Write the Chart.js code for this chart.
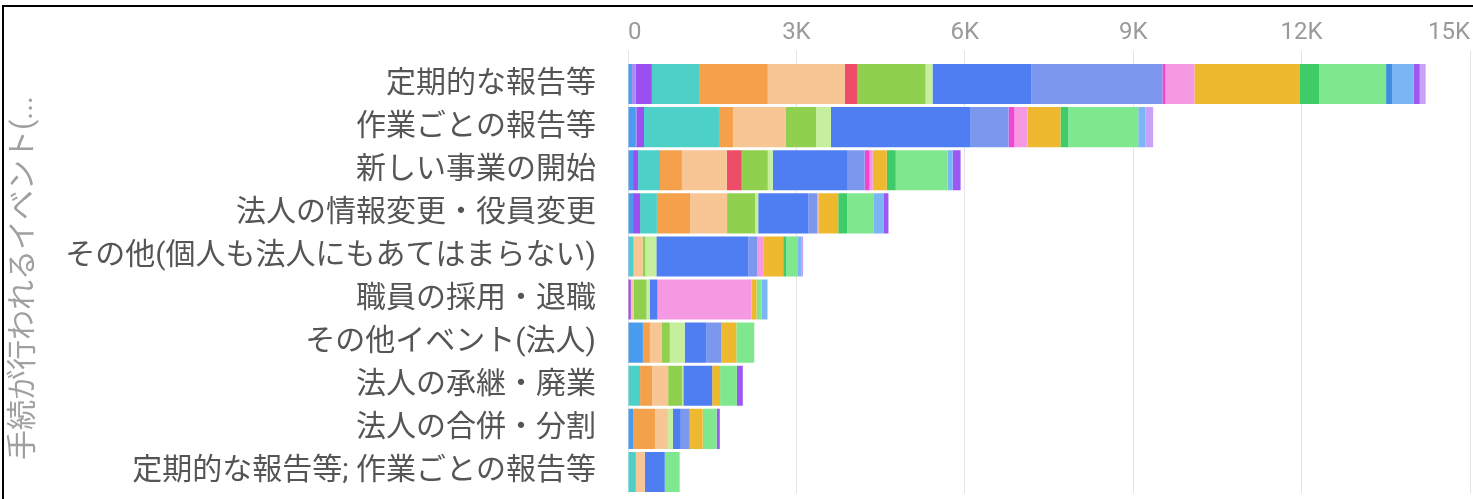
<!DOCTYPE html>
<html>
<head>
<meta charset="utf-8">
<script src="https://cdn.jsdelivr.net/npm/chart.js@4"></script>
<style>
  html, body { margin: 0; padding: 0; background: #fff; }
  #wrap { position: relative; width: 1473px; height: 499px; overflow: hidden; }
  #frame { position: absolute; left: 2px; top: 5px; width: 1480px; height: 510px;
           border-top: 2px solid #000; border-left: 2px solid #000; }
  canvas { position: absolute; left: 0; top: 0; }
</style>
</head>
<body>
<div id="wrap">
  <div id="frame"></div>
  <canvas id="chart" width="1473" height="499"></canvas>
</div>
<script>
// categories (bars, top to bottom)
const categories = [
  '定期的な報告等',
  '作業ごとの報告等',
  '新しい事業の開始',
  '法人の情報変更・役員変更',
  'その他(個人も法人にもあてはまらない)',
  '職員の採用・退職',
  'その他イベント(法人)',
  '法人の承継・廃業',
  '法人の合併・分割',
  '定期的な報告等; 作業ごとの報告等'
];
const axisTitle = '手続が行われるイベント(...';
const tickValues = [0, 3000, 6000, 9000, 12000, 15000];

// breakdown series, values read per bar
const s01 = [70, 140, 90, 90, 30, 0, 265, 0, 90, 0];
const s02 = [70, 20, 0, 0, 0, 0, 0, 0, 0, 0];
const s03 = [285, 125, 90, 125, 0, 50, 0, 0, 0, 0];
const s04 = [855, 1335, 390, 300, 70, 0, 0, 215, 0, 140];
const s05 = [1210, 250, 390, 590, 0, 0, 125, 215, 390, 0];
const s06 = [1370, 945, 800, 660, 160, 50, 215, 285, 230, 160];
const s07 = [230, 0, 265, 0, 0, 0, 0, 0, 0, 0];
const s08 = [1210, 535, 465, 500, 50, 230, 140, 250, 0, 0];
const s09 = [125, 265, 90, 55, 195, 55, 265, 20, 90, 0];
const s10 = [1765, 2490, 1335, 890, 1640, 140, 390, 515, 140, 355];
const s11 = [2330, 675, 300, 160, 160, 0, 265, 0, 160, 0];
const s12 = [55, 105, 90, 0, 0, 0, 0, 0, 0, 0];
const s13 = [515, 230, 55, 20, 105, 1675, 0, 0, 0, 0];
const s14 = [1870, 590, 250, 355, 355, 90, 265, 140, 230, 0];
const s15 = [355, 140, 160, 160, 55, 0, 0, 0, 0, 0];
const s16 = [1190, 1245, 925, 465, 195, 90, 320, 300, 250, 265];
const s17 = [105, 0, 0, 0, 0, 0, 0, 0, 0, 0];
const s18 = [390, 125, 90, 180, 70, 105, 0, 0, 0, 0];
const s19 = [105, 0, 140, 90, 0, 0, 0, 105, 55, 0];
const s20 = [105, 140, 0, 0, 35, 0, 0, 0, 0, 0];

const seriesValues = [s01, s02, s03, s04, s05, s06, s07, s08, s09, s10,
                      s11, s12, s13, s14, s15, s16, s17, s18, s19, s20];
const seriesColors = [
  '#4a9bee', '#a98cf6', '#9b4ff0', '#4dd0c8', '#f5a04a',
  '#f8c595', '#ee4d68', '#8fd14f', '#c5ef9c', '#4f7ef2',
  '#7b97ee', '#f046d0', '#f59ae2', '#efb92f', '#3fcb67',
  '#7fe88f', '#3d8ee0', '#7ab6f3', '#9d57f2', '#c9a1f8'
];

const jpFont = "Roboto, 'Noto Sans CJK JP', sans-serif";
Chart.defaults.font.family = jpFont;

const datasets = seriesValues.map((vals, i) => ({
  label: '系列' + (i + 1),
  data: vals,
  backgroundColor: seriesColors[i],
  borderWidth: 0,
  barPercentage: 0.93,
  categoryPercentage: 1
}));

const PAD_LEFT = 6, PAD_TOP = 8;
const AREA_LEFT = 628, AREA_TOP = 62.5;

new Chart(document.getElementById('chart'), {
  type: 'bar',
  data: { labels: categories, datasets: datasets },
  options: {
    indexAxis: 'y',
    animation: false,
    responsive: false,
    layout: { padding: { left: PAD_LEFT, top: PAD_TOP, right: 2.5, bottom: 5.5 } },
    plugins: { legend: { display: false }, tooltip: { enabled: false } },
    scales: {
      x: {
        position: 'top',
        stacked: true,
        min: 0,
        max: 15000,
        afterBuildTicks: s => { s.ticks = tickValues.map(v => ({ value: v })); },
        afterFit: s => { s.height = AREA_TOP - PAD_TOP; },
        border: { display: false },
        grid: { color: '#e3e3e3', lineWidth: 1, drawTicks: true, tickLength: 12, tickColor: '#e3e3e3' },
        ticks: {
          align: 'inner',
          padding: 3,
          color: '#9a9a9a',
          font: { size: 24, family: 'Roboto' },
          callback: v => v === 0 ? '0' : (v / 1000) + 'K'
        }
      },
      y: {
        stacked: true,
        afterFit: s => {
          s.width = AREA_LEFT - PAD_LEFT;
          // labels may sit at the very ends, no extra room above/below
          s.paddingTop = 0;
          s.paddingBottom = 0;
        },
        border: { display: false },
        grid: { display: false },
        ticks: { color: '#555', padding: 24, font: { size: 30 } },
        title: {
          display: true,
          text: axisTitle,
          color: '#a0a0a0',
          padding: { top: 0, bottom: 0 },
          font: { size: 30 }
        }
      }
    }
  }
});
</script>
</body>
</html>
